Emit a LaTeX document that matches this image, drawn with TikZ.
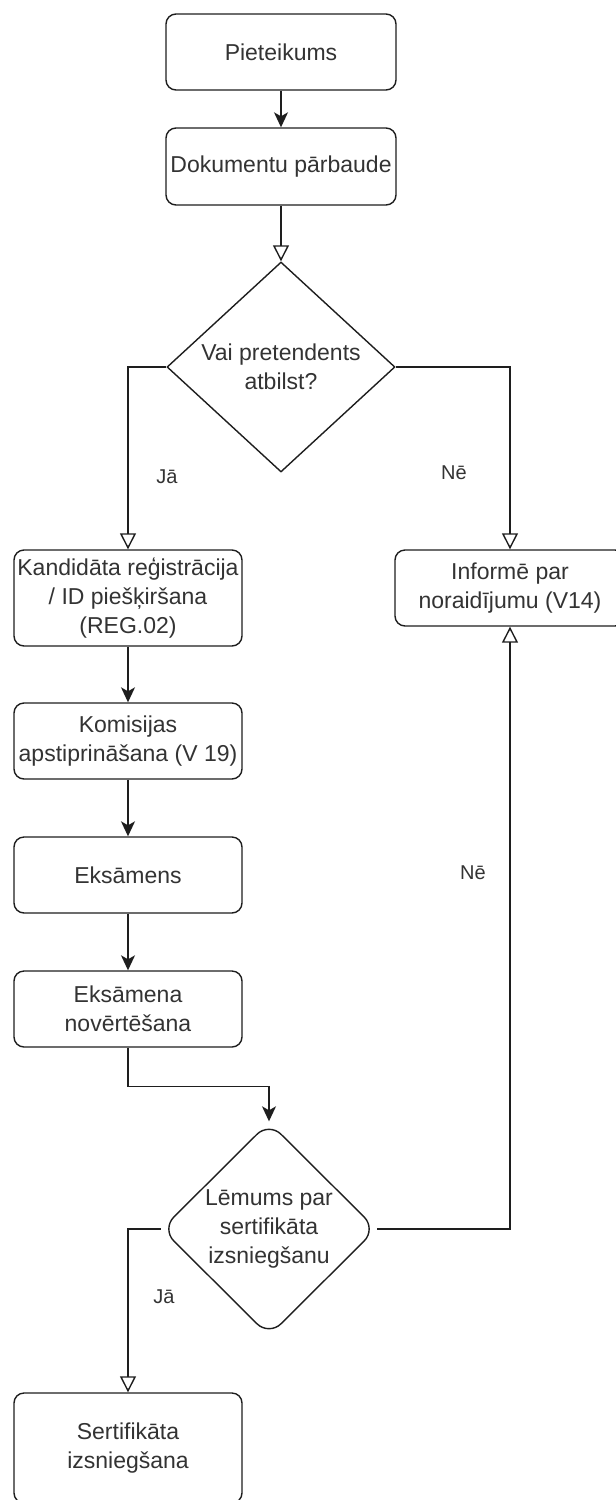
\documentclass[tikz,border=0pt]{standalone}
\usepackage{fontspec}
\setmainfont{Liberation Sans}
\usetikzlibrary{shapes.geometric,arrows.meta,calc}
\definecolor{linecol}{HTML}{1E1E1E}
\definecolor{txtcol}{HTML}{333333}
\newcommand\bxfont{\fontsize{23pt}{28.75pt}\selectfont}
\newcommand\lbfont{\fontsize{20pt}{24pt}\selectfont}
\begin{document}
\begin{tikzpicture}[x=1pt,y=-1pt,
  box/.style={draw=linecol, line width=1.4pt, rounded corners=10pt, align=center,
    inner sep=0pt, text=txtcol, font=\bxfont, fill=white},
  dia/.style={draw=linecol, line width=1.4pt, diamond, align=center,
    inner sep=-4pt, text=txtcol, font=\bxfont, fill=white},
  lbl/.style={text=txtcol, font=\lbfont, inner sep=0pt},
  filarr/.style={draw=linecol, line width=1.4pt, -{Stealth[length=15pt,width=14pt,inset=4pt]}},
  openarr/.style={draw=linecol, line width=1.4pt, -{Triangle[open,length=16pt,width=16pt]}}
]
\useasboundingbox (0,0) rectangle (616,1500);

\node[box, minimum width=230pt, minimum height=76pt] (p) at (281,52) {Pieteikums};
\node[box, minimum width=230pt, minimum height=77pt] (d) at (281,166.5) {Dokumentu pārbaude};
\node[dia, minimum width=228pt, minimum height=210pt, shape aspect=1.086] (q1) at (281,367) {Vai pretendents\\atbilst?};
\node[box, minimum width=228pt, minimum height=96pt] (k) at (128,598) {Kandidāta reģistrācija\\/ ID piešķiršana\\(REG.02)};
\node[box, minimum width=230pt, minimum height=76pt] (i) at (510,588) {Informē par\\noraidījumu (V14)};
\node[box, minimum width=228pt, minimum height=76pt] (kom) at (128,741) {Komisijas\\apstiprināšana (V 19)};
\node[box, minimum width=228pt, minimum height=76pt] (e) at (128,875) {Eksāmens};
\node[box, minimum width=228pt, minimum height=76pt] (en) at (128,1009) {Eksāmena\\novērtēšana};
\node[dia, rounded corners=17pt, minimum width=215pt, minimum height=214pt] (q2) at (269,1229) {Lēmums par\\sertifikāta\\izsniegšanu};
\node[box, minimum width=228pt, minimum height=110pt] (s) at (128,1448) {Sertifikāta\\izsniegšana};

\draw[filarr] (p) -- (d);
\draw[openarr] (d.south) -- (q1.north);
\draw[openarr] (q1.west) -| (k.north);
\draw[openarr] (q1.east) -| (i.north);
\draw[filarr] (k) -- (kom);
\draw[filarr] (kom) -- (e);
\draw[filarr] (e) -- (en);
\draw[filarr] (en.south) -- ++(0,39) -| (q2.north);
\draw[openarr] (q2.east) -| (i.south);
\draw[openarr] (q2.west) -| (s.north);

\node[lbl] (l1) at (167,477) {Jā};
\node[lbl] (l2) at (454,473) {Nē};
\node[lbl] (l3) at (473,873) {Nē};
\node[lbl] (l4) at (164,1297) {Jā};
\end{tikzpicture}
\end{document}
